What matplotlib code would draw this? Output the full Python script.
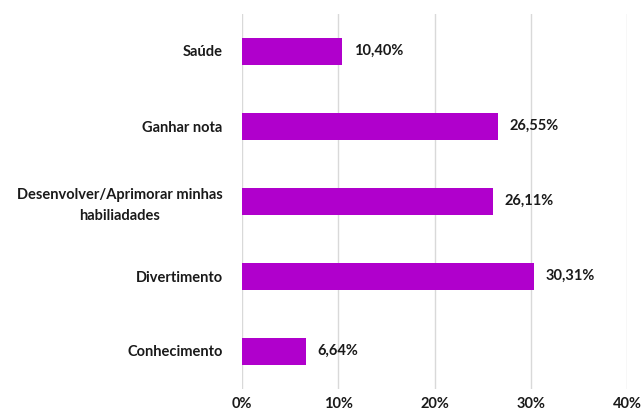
import matplotlib
matplotlib.use("Agg")
import matplotlib.pyplot as plt
from matplotlib.ticker import FuncFormatter

categories = ["Saúde", "Ganhar nota", "Desenvolver/Aprimorar minhas\nhabiliadades",
              "Divertimento", "Conhecimento"]
values = [10.40, 26.55, 26.11, 30.31, 6.64]
ticks = [0, 10, 20, 30, 40]

plt.rcParams['font.family'] = ['Lato', 'DejaVu Sans']
plt.rcParams['font.weight'] = 'bold'

fig = plt.figure(figsize=(6.42, 4.16), dpi=100)
ax = fig.add_axes([242 / 642, 1 - 388.5 / 416, 385 / 642, 375 / 416])

bar_color = "#B000CC"
pos = list(range(len(categories)))
ax.barh(pos, values, height=0.36, color=bar_color, zorder=3)

for p, v in zip(pos, values):
    ax.text(v + 1.2, p, f"{v:.2f}%".replace(".", ","), va="center", ha="left",
            fontsize=10.5, fontweight="bold", color="#1a1a1a")

ax.set_xlim(0, 40)
ax.set_ylim(len(categories) - 0.5, -0.5)
ax.set_xticks(ticks)
ax.xaxis.set_major_formatter(FuncFormatter(lambda x, _: f"{x:.0f}%"))
ax.set_yticks(pos)
ax.set_yticklabels(categories, fontsize=10.5, fontweight="bold", color="#1a1a1a",
                   multialignment="center", linespacing=1.6)
ax.tick_params(axis="both", length=0)
ax.tick_params(axis="y", pad=14)
ax.tick_params(axis="x", pad=6, labelsize=10.5, labelcolor="#1a1a1a")
for lbl in ax.get_xticklabels():
    if lbl.get_text() == "40%":
        lbl.set_horizontalalignment("center")
ax.grid(axis="x", color="#d9d9d9", linewidth=1, zorder=0)
for s in ax.spines.values():
    s.set_visible(False)

fig.savefig("out.png", dpi=100, facecolor="white")
